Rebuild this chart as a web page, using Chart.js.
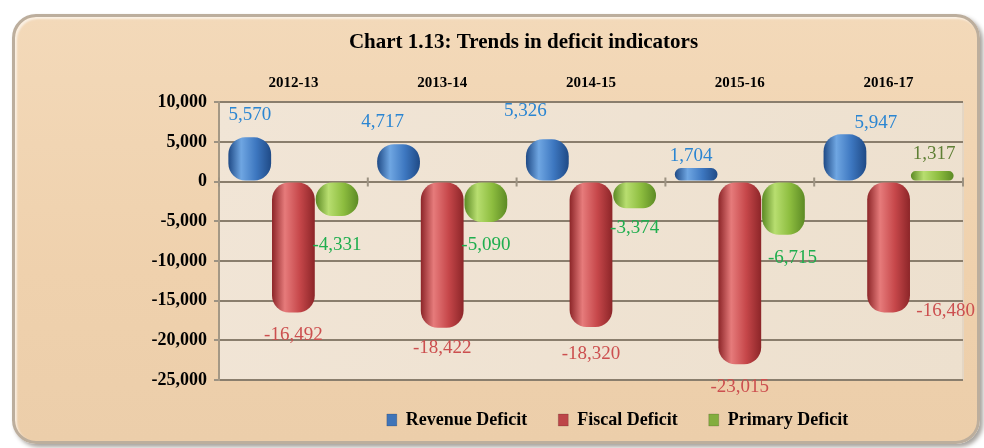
<!DOCTYPE html>
<html>
<head>
<meta charset="utf-8">
<script src="https://cdn.jsdelivr.net/npm/chart.js@4"></script>
<style>
    html, body { margin: 0; padding: 0; background: #ffffff; }
    #page { position: relative; width: 984px; height: 448px; overflow: hidden; }
    #card {
        position: absolute; left: 12px; top: 14px; width: 962px; height: 424px;
        border-radius: 24px;
        background: linear-gradient(180deg, #f3d9b9 0%, #efd1ad 60%, #ecceaa 100%);
        border: 3px solid #bcae9d;
        box-shadow: 3px 3px 4px rgba(60, 50, 40, 0.45), inset 2px 2px 2px rgba(255, 255, 255, 0.6);
    }
    #chart-wrap { position: absolute; left: 0; top: 0; width: 984px; height: 448px; }
</style>
</head>
<body>
<div id="page">
    <div id="card"></div>
    <div id="chart-wrap"><canvas id="deficit-chart"></canvas></div>
</div>
<script>
const categories = ['2012-13', '2013-14', '2014-15', '2015-16', '2016-17'];
const revenueDeficit = [5570, 4717, 5326, 1704, 5947];
const fiscalDeficit = [-16492, -18422, -18320, -23015, -16480];
const primaryDeficit = [-4331, -5090, -3374, -6715, 1317];
const seriesNames = ['Revenue Deficit', 'Fiscal Deficit', 'Primary Deficit'];
const yMin = -25000;
const yMax = 10000;
const yStep = 5000;

const categoryPct = 0.88;
const barPct = 0.98;
const serif = '"Liberation Serif", "Times New Roman", serif';

// label nudges for the hand-placed labels in the original
const labelNudge = {
    '0-1': { dx: -16, dy: 0 },
    '0-2': { dx: -22, dy: -6 },
    '0-3': { dx: -5, dy: 10 },
    '0-4': { dx: 31, dy: 11 },
    '1-1': { dx: 0, dy: -3 },
    '1-2': { dx: 0, dy: 4 },
    '1-4': { dx: 57, dy: -24 },
    '2-0': { dx: 0, dy: 6 },
    '2-2': { dx: 0, dy: -3 },
    '2-3': { dx: 9, dy: 0 },
    '2-4': { dx: 2, dy: 5 },
};

function cylinderFill(base, light, dark) {
    return (ctx) => {
        if (ctx.type !== 'data') {
            return base;
        }
        const chart = ctx.chart;
        const xs = chart.scales.x;
        if (! xs || ! chart.chartArea) {
            return base;
        }
        const slot = (xs.width / categories.length) * categoryPct / 3;
        const center = xs.getPixelForValue(ctx.dataIndex) + (ctx.datasetIndex - 1) * slot;
        const half = slot * barPct / 2;
        const g = chart.ctx.createLinearGradient(center - half, 0, center + half, 0);
        g.addColorStop(0, dark);
        g.addColorStop(0.3, light);
        g.addColorStop(0.65, base);
        g.addColorStop(1, dark);
        return g;
    };
}

// the original centres the title and legend off the canvas middle
const boxShift = {
    id: 'boxShift',
    afterLayout(chart) {
        const move = (box, dx) => {
            if (box) {
                box.left += dx;
                box.right += dx;
            }
        };
        move(chart.titleBlock, 42);
        move(chart.legend, 136);
    },
};

const plotBackground = {
    id: 'plotBackground',
    beforeDraw(chart) {
        const { ctx, chartArea: a } = chart;
        ctx.save();
        const g = ctx.createLinearGradient(a.left, a.top, a.right, a.bottom);
        g.addColorStop(0, '#f1e5d6');
        g.addColorStop(1, '#ede0ce');
        ctx.fillStyle = g;
        ctx.fillRect(a.left, a.top, a.right - a.left, a.bottom - a.top);
        ctx.strokeStyle = '#e4d6c4';
        ctx.lineWidth = 2;
        ctx.beginPath();
        ctx.moveTo(a.right, a.top);
        ctx.lineTo(a.right, a.bottom);
        ctx.stroke();
        ctx.restore();
    },
    beforeDatasetsDraw(chart) {
        // category boundary ticks on the zero line
        const { ctx, scales: { x, y } } = chart;
        const y0 = y.getPixelForValue(0);
        const step = x.width / categories.length;
        ctx.save();
        ctx.strokeStyle = '#9c9282';
        ctx.lineWidth = 2;
        ctx.beginPath();
        for (let i = 0; i <= categories.length; i++) {
            const px = x.left + i * step;
            ctx.moveTo(px, y0 - 4);
            ctx.lineTo(px, y0 + 5);
        }
        ctx.stroke();
        ctx.restore();
    },
};

const valueLabels = {
    id: 'valueLabels',
    afterDatasetsDraw(chart) {
        const { ctx } = chart;
        ctx.save();
        ctx.font = `19px ${serif}`;
        ctx.textAlign = 'center';
        ctx.textBaseline = 'middle';
        chart.data.datasets.forEach((ds, di) => {
            const meta = chart.getDatasetMeta(di);
            meta.data.forEach((bar, i) => {
                const v = ds.data[i];
                const nudge = labelNudge[`${di}-${i}`] || { dx: 0, dy: 0 };
                const y = v >= 0 ? bar.y - 22 : bar.y + 23;
                ctx.fillStyle = ds.labelColor(v);
                ctx.fillText(v.toLocaleString('en-US'), bar.x + nudge.dx, y + nudge.dy);
            });
        });
        ctx.restore();
    },
};

function initDeficitChart() {
    const canvas = document.getElementById('deficit-chart');
    canvas.width = 984;
    canvas.height = 448;

    new Chart(canvas, {
        type: 'bar',
        data: {
            labels: categories,
            datasets: [
                {
                    label: seriesNames[0],
                    data: revenueDeficit,
                    backgroundColor: cylinderFill('#3d77c0', '#6fa6e2', '#1f4a86'),
                    legendColor: '#3f74b8',
                    labelColor: () => '#2a85d2',
                },
                {
                    label: seriesNames[1],
                    data: fiscalDeficit,
                    backgroundColor: cylinderFill('#c6474a', '#e67b7b', '#8c2528'),
                    legendColor: '#bd4548',
                    labelColor: () => '#cc4f4f',
                },
                {
                    label: seriesNames[2],
                    data: primaryDeficit,
                    backgroundColor: cylinderFill('#8dbd3f', '#b8de70', '#5c8a24'),
                    legendColor: '#83ad3e',
                    labelColor: (v) => (v >= 0 ? '#5f7f35' : '#1fae4e'),
                },
            ],
        },
        options: {
            responsive: false,
            animation: false,
            categoryPercentage: categoryPct,
            barPercentage: barPct,
            datasets: {
                bar: {
                    borderRadius: 17,
                    borderSkipped: false,
                    borderWidth: 0,
                },
            },
            layout: {
                padding: { left: 0, right: 21, top: 0, bottom: 9 },
            },
            plugins: {
                title: {
                    display: true,
                    text: 'Chart 1.13: Trends in deficit indicators',
                    color: '#000000',
                    font: { family: serif, size: 21, weight: 'bold' },
                    padding: { top: 30, bottom: 8 },
                },
                legend: {
                    position: 'bottom',
                    labels: {
                        color: '#000000',
                        boxWidth: 10,
                        boxHeight: 12,
                        padding: 31,
                        font: { family: serif, size: 18, weight: 'bold' },
                        generateLabels: (chart) => Chart.defaults.plugins.legend.labels.generateLabels(chart)
                            .map((item) => ({
                                ...item,
                                fillStyle: chart.data.datasets[item.datasetIndex].legendColor,
                                strokeStyle: 'rgba(0, 0, 0, 0.15)',
                                lineWidth: 1,
                            })),
                    },
                },
                tooltip: { enabled: false },
            },
            scales: {
                x: {
                    position: 'top',
                    grid: { display: false, drawTicks: false },
                    border: { display: false },
                    ticks: {
                        color: '#000000',
                        padding: 10,
                        font: { family: serif, size: 15, weight: 'bold' },
                    },
                    afterFit: (scale) => { scale.height = 39; },
                },
                y: {
                    min: yMin,
                    max: yMax,
                    ticks: {
                        stepSize: yStep,
                        color: '#000000',
                        padding: 7,
                        font: { family: serif, size: 18, weight: 'bold' },
                        callback: (value) => Number(value).toLocaleString('en-US'),
                    },
                    grid: {
                        color: '#8a7e6d',
                        lineWidth: 2,
                        tickLength: 5,
                        tickColor: '#9c9282',
                    },
                    border: { display: true, color: '#a49885', width: 2 },
                    afterFit: (scale) => { scale.width = 219; },
                },
            },
        },
        plugins: [boxShift, plotBackground, valueLabels],
    });
}

if (document.readyState === 'loading') {
    document.addEventListener('DOMContentLoaded', initDeficitChart);
} else {
    initDeficitChart();
}
</script>
</body>
</html>
